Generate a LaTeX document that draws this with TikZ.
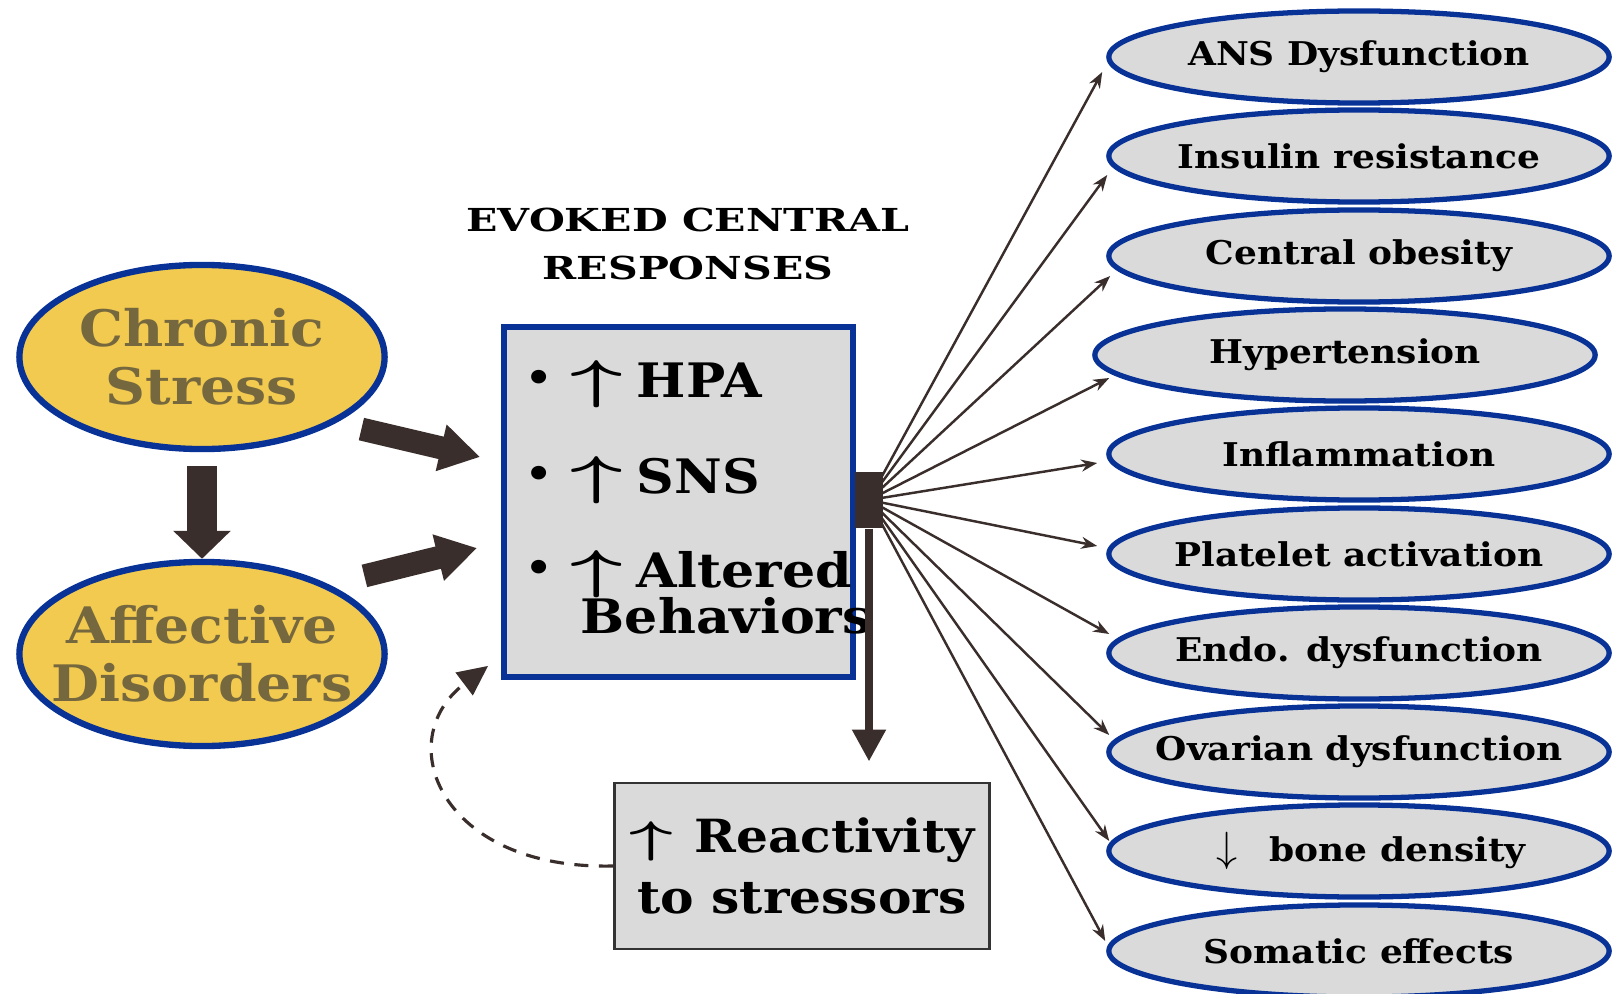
\documentclass[tikz,border=0pt]{standalone}
\usepackage{fontspec}
\usepackage{graphicx}
\setmainfont[FakeStretch=1.1]{DejaVu Serif}
\newfontfamily\headfont[FakeStretch=1.3]{DejaVu Serif}
\usetikzlibrary{shapes.geometric,arrows.meta,calc}

\definecolor{frameblue}{RGB}{8,50,150}
\definecolor{stressyellow}{RGB}{242,202,80}
\definecolor{stresstext}{RGB}{118,104,62}
\definecolor{panelgray}{RGB}{218,218,218}
\definecolor{arrowbrown}{RGB}{58,46,44}

\newcommand{\uparr}{\scalebox{1.8}[1.05]{\boldmath$\uparrow$}}
\newcommand{\smallbullet}{\raisebox{1.5pt}{\fontsize{11}{11}\selectfont\textbullet}}

\tikzset{
    stress/.style={ellipse, draw=frameblue, line width=1.8pt, fill=stressyellow, text=stresstext,
        minimum width=3.65cm, minimum height=1.84cm, inner xsep=-0.3cm, inner ysep=0pt,
        align=center, font=\fontsize{14.3}{16.5}\selectfont\bfseries},
    outcome/.style={ellipse, draw=frameblue, line width=1.5pt, fill=panelgray,
        minimum width=5cm, minimum height=0.92cm, inner xsep=-0.3cm, inner ysep=0pt,
        font=\fontsize{9.3}{11}\selectfont\bfseries},
    centralbox/.style={rectangle, draw=frameblue, line width=1.6pt, fill=panelgray,
        minimum width=3.49cm, minimum height=3.5cm, inner sep=0pt},
    boxline/.style={anchor=base west, inner sep=0pt, font=\fontsize{13.5}{15}\selectfont\bfseries},
    reactbox/.style={rectangle, draw=black!80, line width=0.8pt, fill=panelgray,
        minimum width=3.75cm, minimum height=1.66cm, inner sep=0pt, align=center,
        font=\fontsize{13}{17.5}\selectfont\bfseries},
    headtext/.style={align=center, inner sep=0pt, font=\headfont\bfseries\fontsize{9}{13.5}\selectfont},
    hub/.style={rectangle, fill=arrowbrown, minimum width=0.28cm, minimum height=0.56cm, inner sep=0pt},
    fatarrow/.style={draw=arrowbrown, line width=0.23cm, -{Triangle[length=0.4cm, width=0.45cm]}},
    fatdown/.style={draw=arrowbrown, line width=0.3cm, -{Triangle[length=0.28cm, width=0.56cm]}},
    hubarrow/.style={draw=arrowbrown, line width=0.08cm, -{Triangle[length=0.32cm, width=0.32cm]}},
    fan/.style={draw=arrowbrown, line width=0.7pt, -{Stealth[length=0.16cm, width=0.12cm]}},
    feedback/.style={draw=arrowbrown, line width=0.9pt, dash pattern=on 4pt off 3pt,
        -{Triangle[length=0.3cm, width=0.28cm]}}
}

\begin{document}
\begin{tikzpicture}[x=0.01cm, y=-0.01cm]
    \useasboundingbox (0,0) rectangle (1612,994);

    \node[stress] (chronic) at (202,357) {Chronic\\Stress};
    \node[stress] (affective) at (202,654) {Affective\\Disorders};

    \node[headtext] (heading) at (688,244) {EVOKED CENTRAL\\RESPONSES};

    \node[centralbox] (central) at (678.5,502) {};
    \node[boxline] (hpa) at (525,397) {\smallbullet\hspace{5pt}\uparr\hspace{4pt}HPA};
    \node[boxline] (sns) at (525,493) {\smallbullet\hspace{5pt}\uparr\hspace{4pt}SNS};
    \node[boxline] (altered) at (525,587) {\smallbullet\hspace{5pt}\uparr\hspace{4pt}Altered};
    \node[boxline] (behav) at (580,633) {Behaviors};

    \node[hub] (hub) at (869,500) {};
    \node[reactbox] (react) at (802,866) {\uparr\hspace{6pt}Reactivity\\to stressors};

    \node[outcome] (ans) at (1359,57) {ANS Dysfunction};
    \node[outcome] (insulin) at (1359,156) {Insulin resistance};
    \node[outcome] (obesity) at (1359,256) {Central obesity};
    \node[outcome] (hypert) at (1345,355) {Hypertension};
    \node[outcome] (inflam) at (1359,454) {Inflammation};
    \node[outcome] (platelet) at (1359,554) {Platelet activation};
    \node[outcome] (endo) at (1359,653) {Endo. dysfunction};
    \node[outcome] (ovarian) at (1359,752) {Ovarian dysfunction};
    \node[outcome] (bone) at (1359,851) {\hspace{7pt}{\fontsize{12.5}{12}\selectfont$\downarrow$}\hspace{9pt}bone density};
    \node[outcome] (somatic) at (1359,951) {Somatic effects};

    \draw[fatdown] ([shift={(0,14)}]chronic.south) -- (affective.north);
    \draw[fatarrow] ([shift={(22,8)}]chronic.-25) -- ([shift={(-21,-45)}]central.west);
    \draw[fatarrow] ([shift={(25,-14)}]affective.25) -- ([shift={(-24,46)}]central.west);

    \draw[hubarrow] (hub.south) -- ($(hub.south |- react.north)+(0,-20)$);
    \draw[feedback] (react.west) .. controls (440,870) and (390,740) .. ($(central.south west)+(-13,-14)$);

    \draw[fan] (hub.center) -- ($(ans.west)+(-4,15)$);
    \draw[fan] (hub.center) -- ($(insulin.west)+(1,19)$);
    \draw[fan] (hub.center) -- ($(obesity.west)+(4,20)$);
    \draw[fan] (hub.center) -- ($(hypert.west)+(17,23)$);
    \draw[fan] (hub.center) -- ($(inflam.west)+(-9,9)$);
    \draw[fan] (hub.center) -- ($(platelet.west)+(-9,-8)$);
    \draw[fan] (hub.center) -- ($(endo.west)+(3,-19)$);
    \draw[fan] (hub.center) -- ($(ovarian.west)+(3,-17)$);
    \draw[fan] (hub.center) -- ($(bone.west)+(3,-10)$);
    \draw[fan] (hub.center) -- ($(somatic.west)+(-1,-10)$);
\end{tikzpicture}
\end{document}
